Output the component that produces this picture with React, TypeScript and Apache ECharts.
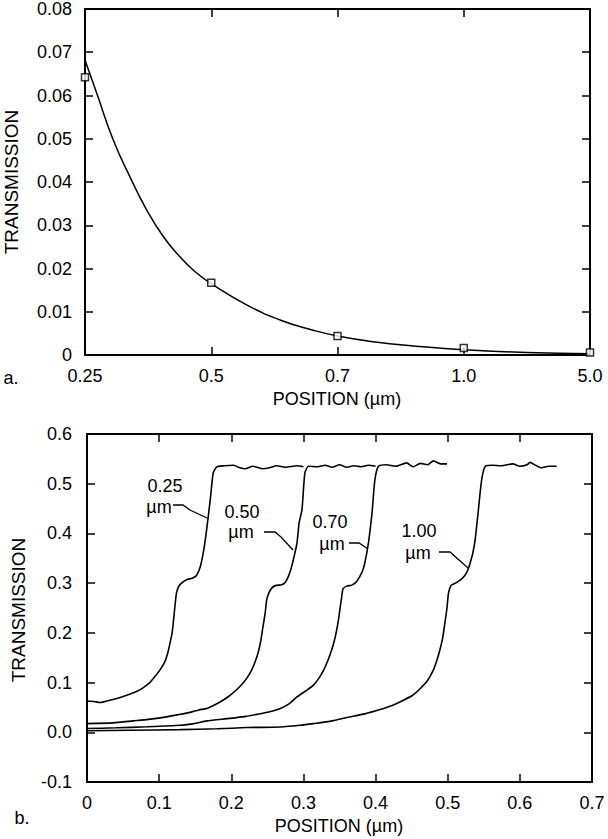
import React, { useEffect, useRef } from "react";
import * as echarts from "echarts";

// ---- Panel a ----
const topXLabels = ["0.25", "0.5", "0.7", "1.0", "5.0"];
const topSquareX = [0, 1, 2, 3, 4];
const topSquareY = [0.0642, 0.0167, 0.0044, 0.0016, 0.0006];
const topCurveX = [0, 0.093, 0.224, 0.356, 0.489, 0.62, 0.752, 0.87, 1.0, 1.28, 1.545, 1.8, 2.0, 2.3, 2.6, 3.0, 3.5, 4.0];
const topCurveY = [0.0682, 0.0605, 0.0497, 0.0412, 0.0335, 0.0274, 0.0227, 0.0193, 0.0165, 0.0116, 0.0081, 0.0058, 0.0044, 0.003, 0.0021, 0.0012, 0.0006, 0.0003];

// ---- Panel b ----
const curve025 = [
  [0, 0.063], [0.01, 0.062], [0.018, 0.06], [0.025, 0.062], [0.036, 0.066], [0.048, 0.071], [0.06, 0.077], [0.07, 0.083],
  [0.078, 0.09], [0.087, 0.1], [0.094, 0.112], [0.101, 0.125], [0.108, 0.142], [0.112, 0.16], [0.115, 0.179], [0.118, 0.2],
  [0.12, 0.226], [0.122, 0.255], [0.124, 0.28], [0.127, 0.293], [0.131, 0.3], [0.138, 0.307], [0.146, 0.31], [0.152, 0.316],
  [0.157, 0.333], [0.161, 0.36], [0.164, 0.387], [0.168, 0.433], [0.171, 0.47], [0.175, 0.522], [0.18, 0.534], [0.19, 0.536],
  [0.203, 0.537], [0.212, 0.532], [0.219, 0.53], [0.23, 0.535], [0.244, 0.53], [0.253, 0.532], [0.263, 0.536], [0.275, 0.533],
  [0.291, 0.536], [0.3, 0.534],
];
const curve050 = [
  [0, 0.0175], [0.036, 0.019], [0.064, 0.023], [0.085, 0.026], [0.106, 0.03], [0.125, 0.035], [0.143, 0.04], [0.155, 0.045],
  [0.166, 0.048], [0.178, 0.056], [0.189, 0.065], [0.198, 0.074], [0.207, 0.085], [0.217, 0.1], [0.226, 0.119], [0.232, 0.138],
  [0.237, 0.159], [0.241, 0.185], [0.244, 0.213], [0.247, 0.24], [0.249, 0.266], [0.252, 0.28], [0.256, 0.29], [0.261, 0.295],
  [0.27, 0.297], [0.275, 0.302], [0.279, 0.313], [0.283, 0.33], [0.286, 0.347], [0.291, 0.38], [0.294, 0.421], [0.298, 0.448],
  [0.302, 0.522], [0.307, 0.535], [0.32, 0.534], [0.33, 0.537], [0.34, 0.533], [0.35, 0.538], [0.36, 0.533], [0.37, 0.536],
  [0.38, 0.534], [0.39, 0.537], [0.4, 0.535],
];
const curve070 = [
  [0, 0.0075], [0.04, 0.009], [0.083, 0.011], [0.129, 0.014], [0.15, 0.018], [0.166, 0.023], [0.198, 0.028], [0.22, 0.032],
  [0.235, 0.036], [0.252, 0.041], [0.268, 0.048], [0.28, 0.057], [0.291, 0.071], [0.303, 0.083], [0.314, 0.095], [0.322, 0.11],
  [0.328, 0.125], [0.334, 0.145], [0.339, 0.165], [0.343, 0.185], [0.346, 0.205], [0.349, 0.23], [0.351, 0.252], [0.353, 0.272],
  [0.355, 0.289], [0.36, 0.294], [0.367, 0.296], [0.373, 0.302], [0.378, 0.313], [0.382, 0.325], [0.385, 0.34], [0.39, 0.38],
  [0.395, 0.44], [0.399, 0.507], [0.404, 0.535], [0.415, 0.538], [0.428, 0.535], [0.443, 0.542], [0.452, 0.534], [0.462, 0.541],
  [0.472, 0.538], [0.48, 0.546], [0.49, 0.54], [0.499, 0.54],
];
const curve100 = [
  [0, 0.003], [0.06, 0.004], [0.129, 0.0054], [0.18, 0.007], [0.221, 0.0095], [0.268, 0.0107], [0.295, 0.014], [0.314, 0.0175],
  [0.34, 0.023], [0.36, 0.0296], [0.385, 0.037], [0.406, 0.0457], [0.423, 0.054], [0.438, 0.064], [0.452, 0.075], [0.462, 0.088],
  [0.472, 0.104], [0.48, 0.125], [0.485, 0.145], [0.489, 0.165], [0.493, 0.19], [0.496, 0.219], [0.499, 0.25], [0.501, 0.279],
  [0.505, 0.296], [0.512, 0.301], [0.518, 0.307], [0.524, 0.316], [0.528, 0.327], [0.531, 0.34], [0.535, 0.362], [0.538, 0.387],
  [0.542, 0.44], [0.547, 0.507], [0.552, 0.535], [0.562, 0.537], [0.574, 0.536], [0.59, 0.54], [0.6, 0.535], [0.61, 0.538],
  [0.614, 0.543], [0.622, 0.537], [0.63, 0.532], [0.64, 0.535], [0.651, 0.535],
];
const curveNames = ["0.25 µm", "0.50 µm", "0.70 µm", "1.00 µm"];

const FONT = "'Liberation Sans', Arial, Helvetica, sans-serif";
const FS = 18;

export default function App() {
  const ref = useRef<HTMLDivElement>(null);
  useEffect(() => {
    if (!ref.current) return;
    const chart = echarts.init(ref.current, undefined, { renderer: "svg" });
    const axisLine = { show: true, onZero: false, lineStyle: { color: "#000", width: 2 } };
    const tick = { show: true, inside: true, length: 8, lineStyle: { color: "#000", width: 1.5 } };
    const label = { color: "#000", fontSize: FS, fontFamily: FONT };
    const noSplit = { show: false };

    const text = (t: string, x: number, y: number, rot = 0, fs = FS) => ({
      type: "text",
      x,
      y,
      rotation: rot,
      style: { text: t, fontSize: fs, fontFamily: FONT, fill: "#000", align: "center", verticalAlign: "middle" },
    });
    const leader = (pts: number[][]) => ({
      type: "polyline",
      shape: { points: pts },
      style: { stroke: "#000", lineWidth: 1.3, fill: null },
    });

    const lineSeries = (data: number[][], name: string) => ({
      type: "line",
      name,
      xAxisIndex: 2,
      yAxisIndex: 2,
      data,
      showSymbol: false,
      smooth: 0.2,
      lineStyle: { color: "#000", width: 1.6 },
    });

    chart.setOption({
      animation: false,
      backgroundColor: "#fff",
      grid: [
        { left: 85, top: 9, width: 505, height: 346 },
        { left: 87, top: 434, width: 505, height: 348 },
      ],
      xAxis: [
        {
          type: "value", gridIndex: 0, min: 0, max: 4, interval: 1, position: "bottom",
          axisLine, axisTick: tick, splitLine: noSplit,
          axisLabel: { ...label, margin: 12, formatter: (v: number) => topXLabels[Math.round(v)] },
        },
        {
          type: "value", gridIndex: 0, min: 0, max: 4, interval: 1, position: "top",
          axisLine, axisTick: tick, splitLine: noSplit, axisLabel: { show: false },
        },
        {
          type: "value", gridIndex: 1, min: 0, max: 0.7, interval: 0.1, position: "bottom",
          axisLine, axisTick: tick, splitLine: noSplit,
          axisLabel: { ...label, margin: 12, formatter: (v: number) => (Math.abs(v) < 1e-9 ? "0" : v.toFixed(1)) },
        },
        {
          type: "value", gridIndex: 1, min: 0, max: 0.7, interval: 0.1, position: "top",
          axisLine, axisTick: tick, splitLine: noSplit, axisLabel: { show: false },
        },
      ],
      yAxis: [
        {
          type: "value", gridIndex: 0, min: 0, max: 0.08, interval: 0.01, position: "left",
          axisLine, axisTick: tick, splitLine: noSplit,
          axisLabel: { ...label, margin: 13, formatter: (v: number) => (Math.abs(v) < 1e-9 ? "0" : v.toFixed(2)) },
        },
        {
          type: "value", gridIndex: 0, min: 0, max: 0.08, interval: 0.01, position: "right",
          axisLine, axisTick: tick, splitLine: noSplit, axisLabel: { show: false },
        },
        {
          type: "value", gridIndex: 1, min: -0.1, max: 0.6, interval: 0.1, position: "left",
          axisLine, axisTick: tick, splitLine: noSplit,
          axisLabel: { ...label, margin: 15, formatter: (v: number) => v.toFixed(1) },
        },
        {
          type: "value", gridIndex: 1, min: -0.1, max: 0.6, interval: 0.1, position: "right",
          axisLine, axisTick: tick, splitLine: noSplit, axisLabel: { show: false },
        },
      ],
      series: [
        {
          type: "line",
          name: "fit",
          xAxisIndex: 0,
          yAxisIndex: 0,
          data: topCurveX.map((x, i) => [x, topCurveY[i]]),
          showSymbol: false,
          smooth: true,
          lineStyle: { color: "#000", width: 1.5 },
        },
        {
          type: "scatter",
          name: "measured",
          xAxisIndex: 0,
          yAxisIndex: 0,
          clip: false,
          data: topSquareX.map((x, i) => [x, topSquareY[i]]),
          symbol: "rect",
          symbolSize: 7,
          itemStyle: { color: "#fff", borderColor: "#000", borderWidth: 1.5 },
          z: 5,
        },
        lineSeries(curve025, curveNames[0]),
        lineSeries(curve050, curveNames[1]),
        lineSeries(curve070, curveNames[2]),
        lineSeries(curve100, curveNames[3]),
      ],
      graphic: [
        text("TRANSMISSION", 11, 182, Math.PI / 2, 19),
        text("POSITION (µm)", 337, 399),
        text("a.", 11, 378),
        text("TRANSMISSION", 18, 610, Math.PI / 2, 19),
        text("POSITION (µm)", 339, 826),
        text("b.", 22, 818),
        text("0.25", 165, 486),
        text("µm", 159, 507),
        leader([[173, 505], [183, 505], [190, 510], [207, 518]]),
        text("0.50", 242, 512),
        text("µm", 241, 532),
        leader([[264, 532], [275, 532], [281, 537], [293, 550]]),
        text("0.70", 330, 522),
        text("µm", 332, 544),
        leader([[349, 543], [359, 543], [368, 549]]),
        text("1.00", 419, 531),
        text("µm", 418, 553),
        leader([[439, 552], [450, 552], [468, 568]]),
      ],
    });
    return () => chart.dispose();
  }, []);
  return <div ref={ref} style={{ position: "absolute", left: 0, top: 0, width: 608, height: 839 }} />;
}
